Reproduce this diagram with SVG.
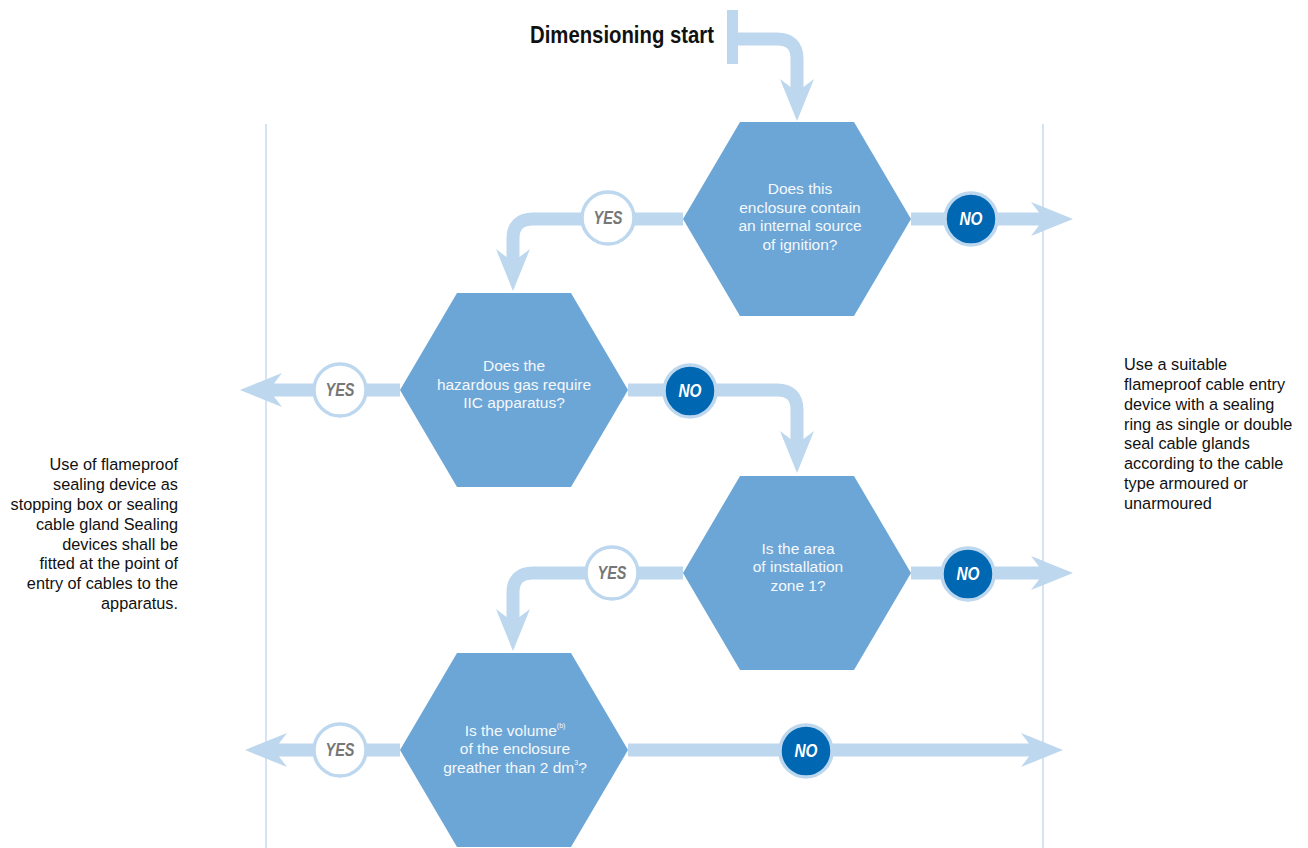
<svg xmlns="http://www.w3.org/2000/svg" width="1308" height="848" viewBox="0 0 1308 848">
<style>
.bg{fill:#ffffff}
.guide{stroke:#c9daee;stroke-width:1.5;fill:none}
.band{stroke:#bdd7ee;stroke-width:13;fill:none}
.ah{fill:#bdd7ee}
.hex{fill:#6ca6d6}
.ht{font-family:"Liberation Sans",Arial,sans-serif;font-size:15.5px;fill:#f4f8fc;text-anchor:middle}
.side{font-family:"Liberation Sans",Arial,sans-serif;font-size:16.3px;fill:#111111}
.yesc{fill:#ffffff;stroke:#bdd7ee;stroke-width:3.5}
.noc{fill:#0067b3;stroke:#bdd7ee;stroke-width:3.5}
.yt{font-family:"Liberation Sans",Arial,sans-serif;font-size:18px;font-weight:bold;font-style:italic;fill:#777777;text-anchor:middle}
.nt{font-family:"Liberation Sans",Arial,sans-serif;font-size:18px;font-weight:bold;font-style:italic;fill:#ffffff;text-anchor:middle}
.title{font-family:"Liberation Sans",Arial,sans-serif;font-size:24px;font-weight:bold;fill:#111111}
</style>
<defs>
<path id="arrow" d="M0,0 L-42,-17 L-34,-6.5 L-34,6.5 L-42,17 Z"/>
</defs>
<rect class="bg" x="0" y="0" width="1308" height="848"/>
<g id="guides">
<line class="guide" x1="266" y1="124" x2="266" y2="848"/>
<line class="guide" x1="1043" y1="124" x2="1043" y2="848"/>
</g>
<g id="connectors">
<rect class="ah" x="727" y="10" width="11" height="54"/>
<path class="band" d="M737 39 H777 Q797 39 797 59 V90"/>
<use href="#arrow" class="ah" transform="translate(797,121) rotate(90)"/>
<path class="band" d="M683 219 H533 Q513 219 513 239 V260"/>
<use href="#arrow" class="ah" transform="translate(513,291) rotate(90)"/>
<path class="band" d="M911 219 H1042"/>
<use href="#arrow" class="ah" transform="translate(1073,219)"/>
<path class="band" d="M400 390 H272"/>
<use href="#arrow" class="ah" transform="translate(240,390) rotate(180)"/>
<path class="band" d="M628 390 H777 Q797 390 797 410 V442"/>
<use href="#arrow" class="ah" transform="translate(797,473) rotate(90)"/>
<path class="band" d="M683 573 H533 Q513 573 513 593 V620"/>
<use href="#arrow" class="ah" transform="translate(513,651) rotate(90)"/>
<path class="band" d="M911 573 H1042"/>
<use href="#arrow" class="ah" transform="translate(1073,573)"/>
<path class="band" d="M400 750 H277"/>
<use href="#arrow" class="ah" transform="translate(245,750) rotate(180)"/>
<path class="band" d="M628 750 H1032"/>
<use href="#arrow" class="ah" transform="translate(1063,750)"/>
</g>
<g id="start">
<text class="title" x="530" y="43" textLength="184" lengthAdjust="spacingAndGlyphs">Dimensioning start</text>
</g>
<g id="q1">
<polygon class="hex" points="683,219 740,122 854,122 911,219 854,316 740,316"/>
<text class="ht" x="800" y="194">Does this</text>
<text class="ht" x="800" y="213">enclosure contain</text>
<text class="ht" x="800" y="231">an internal source</text>
<text class="ht" x="800" y="250">of ignition?</text>
</g>
<g id="q2">
<polygon class="hex" points="400,390 457,293 571,293 628,390 571,487 457,487"/>
<text class="ht" x="514" y="371">Does the</text>
<text class="ht" x="514" y="390">hazardous gas require</text>
<text class="ht" x="514" y="408">IIC apparatus?</text>
</g>
<g id="q3">
<polygon class="hex" points="683,573 740,476 854,476 911,573 854,670 740,670"/>
<text class="ht" x="798" y="554">Is the area</text>
<text class="ht" x="798" y="572">of installation</text>
<text class="ht" x="798" y="591">zone 1?</text>
</g>
<g id="q4">
<polygon class="hex" points="400,750 457,653 571,653 628,750 571,847 457,847"/>
<text class="ht" x="515" y="736">Is the volume<tspan font-size="7" dy="-8">(b)</tspan></text>
<text class="ht" x="515" y="754">of the enclosure</text>
<text class="ht" x="515" y="773">greather than 2 dm<tspan font-size="7" dy="-8">3</tspan><tspan dy="8">?</tspan></text>
</g>
<g id="yes1"><circle class="yesc" cx="608" cy="218" r="26"/><text class="yt" x="608" y="224" textLength="29" lengthAdjust="spacingAndGlyphs">YES</text></g>
<g id="no1"><circle class="noc" cx="971" cy="219" r="26"/><text class="nt" x="971" y="225" textLength="23" lengthAdjust="spacingAndGlyphs">NO</text></g>
<g id="yes2"><circle class="yesc" cx="340" cy="390" r="26"/><text class="yt" x="340" y="396" textLength="29" lengthAdjust="spacingAndGlyphs">YES</text></g>
<g id="no2"><circle class="noc" cx="690" cy="391" r="26"/><text class="nt" x="690" y="397" textLength="23" lengthAdjust="spacingAndGlyphs">NO</text></g>
<g id="yes3"><circle class="yesc" cx="612" cy="573" r="26"/><text class="yt" x="612" y="579" textLength="29" lengthAdjust="spacingAndGlyphs">YES</text></g>
<g id="no3"><circle class="noc" cx="968" cy="574" r="26"/><text class="nt" x="968" y="580" textLength="23" lengthAdjust="spacingAndGlyphs">NO</text></g>
<g id="yes4"><circle class="yesc" cx="340" cy="750" r="26"/><text class="yt" x="340" y="756" textLength="29" lengthAdjust="spacingAndGlyphs">YES</text></g>
<g id="no4"><circle class="noc" cx="806" cy="751" r="26"/><text class="nt" x="806" y="757" textLength="23" lengthAdjust="spacingAndGlyphs">NO</text></g>
<g id="result-left">
<text class="side" text-anchor="end" x="178" y="470">Use of flameproof</text>
<text class="side" text-anchor="end" x="178" y="490">sealing device as</text>
<text class="side" text-anchor="end" x="178" y="510">stopping box or sealing</text>
<text class="side" text-anchor="end" x="178" y="530">cable gland Sealing</text>
<text class="side" text-anchor="end" x="178" y="550">devices shall be</text>
<text class="side" text-anchor="end" x="178" y="569">fitted at the point of</text>
<text class="side" text-anchor="end" x="178" y="589">entry of cables to the</text>
<text class="side" text-anchor="end" x="178" y="609">apparatus.</text>
</g>
<g id="result-right">
<text class="side" x="1124" y="370">Use a suitable</text>
<text class="side" x="1124" y="390">flameproof cable entry</text>
<text class="side" x="1124" y="410">device with a sealing</text>
<text class="side" x="1124" y="430">ring as single or double</text>
<text class="side" x="1124" y="449">seal cable glands</text>
<text class="side" x="1124" y="469">according to the cable</text>
<text class="side" x="1124" y="489">type armoured or</text>
<text class="side" x="1124" y="509">unarmoured</text>
</g>
</svg>
